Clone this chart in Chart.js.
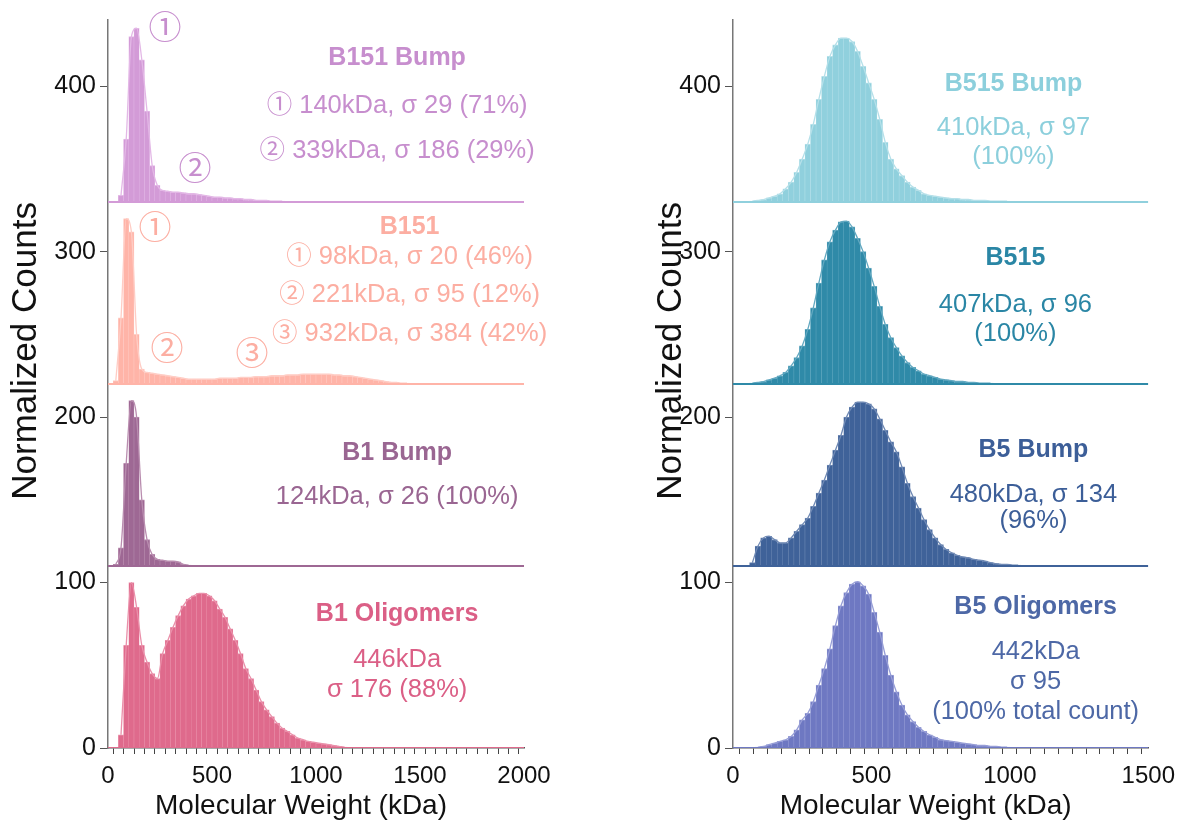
<!DOCTYPE html>
<html>
<head>
<meta charset="utf-8">
<script src="https://cdn.jsdelivr.net/npm/chart.js@4.4.0/dist/chart.umd.min.js"></script>
<style>
  body { margin: 0; background: #fff; width: 1183px; height: 826px; position: relative; overflow: hidden; }
  .box { position: absolute; top: 0; height: 826px; }
  #boxLeft { left: 0; width: 560px; }
  #boxRight { left: 645px; width: 538px; }
</style>
</head>
<body>
<div class="box" id="boxLeft"><canvas id="chartLeft"></canvas></div>
<div class="box" id="boxRight"><canvas id="chartRight"></canvas></div>
<script>
// ---------- DATA: left panel (25 kDa bins) ----------
const binLeft = 25;
const b151BumpStart = 50;
const b151Bump = [4, 38, 100, 105, 86, 55, 22, 10, 7, 6.5, 6, 6, 5.5, 5, 5, 4.5, 4, 3.5, 3, 3,
    2.5, 2.5, 2, 2, 1.5, 1.5, 1, 1, 1, 0.5, 0.5, 0.5];
const b151Start = 25;
const b151 = [2, 40, 100, 92, 30, 9, 7, 6.5, 6, 5.5, 5, 4.5, 4, 3.5, 3, 3, 3, 3, 3, 3,
    3.5, 3.5, 3.5, 3.5, 4, 4, 4, 4.5, 4.5, 4.5, 5, 5, 5, 5.5, 5.5, 5.5, 6, 6, 6, 6, 6, 6,
    5.5, 5.5, 5, 5, 4.5, 4, 3.5, 3, 2.5, 2, 1.5, 1, 1, 0.5, 0.5];
const b1BumpStart = 25;
const b1Bump = [1, 11, 62, 100, 90, 40, 16, 7, 4, 3.5, 3, 3, 2.5, 1, 0.5];
const b1OligStart = 50;
const b1Olig = [8, 62, 100, 85, 62, 52, 45, 42, 57, 65, 73, 80, 86, 90, 92, 93.5, 93.5, 92, 89, 84,
    79, 72, 65, 57, 48, 42, 35, 28, 23, 19, 15, 12, 10, 8, 6, 5, 4, 3.5, 3, 2.5, 2, 1.5, 1, 0.5];

// ---------- DATA: right panel (20 kDa bins) ----------
const binRight = 20;
const b515BumpStart = 60;
const b515Bump = [0.5, 1, 1.5, 2.5, 3.5, 5, 8, 12, 18, 26, 35, 47, 62, 76, 88, 95, 99, 99, 97, 91,
    82, 72, 62, 50, 36, 26, 20, 16, 12, 9, 7, 5, 4, 3.5, 3, 2.5, 2, 2, 1.5, 1.5, 1, 1, 1, 0.5, 0.5, 0.5, 0.5];
const b515Start = 60;
const b515 = [0.5, 1, 1.5, 2.5, 3.5, 5, 7, 11, 16, 23, 33, 46, 61, 75, 86, 93, 98, 98.5, 95, 88,
    80, 70, 59, 47, 36, 28, 22, 17, 13, 10, 8, 6, 5, 4, 3, 2.5, 2, 1.5, 1.5, 1, 1, 0.5, 0.5, 0.5];
const b5BumpStart = 60;
const b5Bump = [2, 12, 17, 18, 16, 14, 14, 17, 21, 25, 29, 36, 44, 52, 61, 70, 79, 90, 96, 99,
    99, 98, 95, 89, 82, 75, 69, 60, 50, 42, 35, 28, 22, 17, 13, 10, 8, 6.5, 5.5, 5, 4, 3.5, 3, 2, 1.5, 1, 1, 0.5, 0.5];
const b5OligStart = 80;
const b5Olig = [0.5, 1, 2, 3, 4, 5, 7, 11, 17, 21, 28, 38, 48, 60, 74, 86, 94, 99, 100.5, 98,
    93, 82, 70, 56, 44, 34, 26, 20, 16, 12.5, 10, 8, 6.5, 5, 4.5, 4, 3.5, 3, 2.5, 2, 1.5, 1.5, 1, 1, 0.5, 0.5];

// offsets of the stacked rows
const rowBase = [330, 220, 110, 0];

// axis ticks
const yTicks = [0, 100, 200, 300, 400];
const xLabelsLeft = [0, 500, 1000, 1500, 2000];
const xLabelsRight = [0, 500, 1000, 1500];

const FONT = "'Liberation Sans', 'Noto Sans CJK JP', Arial, sans-serif";

// colours: [fill, light edge / fit line, text]
const C = {
    b151Bump: ['#d39bd7', '#e3b8e6', '#c78ece'],
    b151:     ['#ffb4a8', '#ffcdc5', '#fcaea2'],
    b1Bump:   ['#9e6894', '#b98daf', '#9a6692'],
    b1Olig:   ['#df6a8c', '#ea90aa', '#db5f86'],
    b515Bump: ['#90d0dd', '#b5e0e9', '#8ccfdc'],
    b515:     ['#2f8aa8', '#62a8c0', '#2a86a5'],
    b5Bump:   ['#3f6299', '#6f89b4', '#3c5e98'],
    b5Olig:   ['#6e78c2', '#969dd6', '#4d68a6']
};

function histo(heights, start, bin, base, col, xmax) {
    const xs = heights.map((h, i) => start + (i + 0.5) * bin);
    return [
        {
            type: 'bar',
            data: heights.map((h, i) => ({ x: xs[i], y: [base, base + h] })),
            backgroundColor: col[0],
            borderColor: col[1],
            borderWidth: { left: 0.5, right: 0.5, top: 1, bottom: 0 },
            borderSkipped: false,
            grouped: false,
            barPercentage: 1,
            categoryPercentage: 1,
            order: 3
        },
        {
            type: 'line',
            data: heights.map((h, i) => ({ x: xs[i], y: base + h })),
            borderColor: col[1],
            borderWidth: 1.3,
            pointRadius: 0,
            cubicInterpolationMode: 'monotone',
            fill: false,
            order: 2
        },
        {
            type: 'line',
            data: [{ x: 0, y: base }, { x: xmax, y: base }],
            borderColor: col[0],
            borderWidth: 1.8,
            pointRadius: 0,
            order: 1
        }
    ];
}

// text labels: [text, x (kDa), y (counts), bold, size, colour]
const notesLeft = [
    ['B151 Bump', 1390, 417, true, 25, C.b151Bump[2]],
    ['\u2460 140kDa, \u03c3 29 (71%)', 1390, 388, false, 25.5, C.b151Bump[2]],
    ['\u2461 339kDa, \u03c3 186 (29%)', 1390, 361, false, 25.5, C.b151Bump[2]],
    ['\u2460', 274, 434, false, 33, C.b151Bump[2]],
    ['\u2461', 418, 349, false, 33, C.b151Bump[2]],
    ['B151', 1450, 315, true, 25, C.b151[2]],
    ['\u2460 98kDa, \u03c3 20 (46%)', 1450, 297, false, 25.5, C.b151[2]],
    ['\u2461 221kDa, \u03c3 95 (12%)', 1450, 274, false, 25.5, C.b151[2]],
    ['\u2462 932kDa, \u03c3 384 (42%)', 1450, 250, false, 25.5, C.b151[2]],
    ['\u2460', 226, 313, false, 33, C.b151[2]],
    ['\u2461', 284, 240, false, 33, C.b151[2]],
    ['\u2462', 692, 237, false, 33, C.b151[2]],
    ['B1 Bump', 1390, 178, true, 25, C.b1Bump[2]],
    ['124kDa, \u03c3 26 (100%)', 1390, 152, false, 25.5, C.b1Bump[2]],
    ['B1 Oligomers', 1390, 81, true, 25, C.b1Olig[2]],
    ['446kDa', 1390, 53, false, 25.5, C.b1Olig[2]],
    ['\u03c3 176 (88%)', 1390, 35, false, 25.5, C.b1Olig[2]]
];
const notesRight = [
    ['B515 Bump', 1013, 401, true, 25, C.b515Bump[2]],
    ['410kDa, \u03c3 97', 1013, 375, false, 25.5, C.b515Bump[2]],
    ['(100%)', 1013, 357, false, 25.5, C.b515Bump[2]],
    ['B515', 1020, 296, true, 25, C.b515[2]],
    ['407kDa, \u03c3 96', 1020, 268, false, 25.5, C.b515[2]],
    ['(100%)', 1020, 250, false, 25.5, C.b515[2]],
    ['B5 Bump', 1085, 180, true, 25, C.b5Bump[2]],
    ['480kDa, \u03c3 134', 1085, 153, false, 25.5, C.b5Bump[2]],
    ['(96%)', 1085, 137, false, 25.5, C.b5Bump[2]],
    ['B5 Oligomers', 1093, 85, true, 25, C.b5Olig[2]],
    ['442kDa', 1093, 58, false, 25.5, C.b5Olig[2]],
    ['\u03c3 95', 1093, 40, false, 25.5, C.b5Olig[2]],
    ['(100% total count)', 1093, 22, false, 25.5, C.b5Olig[2]]
];

// text notes + both axis titles (drawn here so they can sit off-centre like the original)
const notesPlugin = {
    id: 'notes',
    afterDatasetsDraw(chart, args, opts) {
        const { ctx, scales: { x, y } } = chart;
        ctx.save();
        ctx.textAlign = 'center';
        ctx.textBaseline = 'middle';
        opts.items.forEach(n => {
            ctx.font = (n[3] ? 'bold ' : '') + n[4] + 'px ' + FONT;
            ctx.fillStyle = n[5];
            ctx.fillText(n[0], x.getPixelForValue(n[1]), y.getPixelForValue(n[2]));
        });
        ctx.fillStyle = '#111';
        ctx.font = '28px ' + FONT;
        ctx.fillText('Molecular Weight (kDa)', (x.left + x.right) / 2 - 15, 806);
        ctx.translate(26, y.getPixelForValue(240));
        ctx.rotate(-Math.PI / 2);
        ctx.font = '35px ' + FONT;
        ctx.fillText('Normalized Counts', 0, 0);
        ctx.restore();
    }
};

function makeChart(id, datasets, xmax, xLabels, yWidth, padRight, notes) {
    return new Chart(document.getElementById(id), {
        type: 'bar',
        data: { datasets },
        plugins: [notesPlugin],
        options: {
            responsive: true,
            maintainAspectRatio: false,
            animation: false,
            devicePixelRatio: 1,
            layout: { padding: { top: 20, right: padRight, bottom: 0, left: 0 } },
            plugins: {
                legend: { display: false },
                tooltip: { enabled: false },
                notes: { items: notes }
            },
            scales: {
                x: {
                    type: 'linear',
                    offset: false,
                    min: 0,
                    max: xmax,
                    afterBuildTicks: s => {
                        const t = [];
                        for (let v = 0; v <= xmax; v += 50) t.push({ value: v });
                        s.ticks = t;
                    },
                    afterFit: s => { s.height = 78; },
                    ticks: {
                        autoSkip: false,
                        maxRotation: 0,
                        padding: 8,
                        color: '#111',
                        font: { family: FONT, size: 24 },
                        callback: v => xLabels.includes(v) ? String(v) : ''
                    },
                    grid: { drawOnChartArea: false, drawTicks: true, tickLength: 6, color: '#444' },
                    border: { color: '#555', width: 1.5 },
                    title: { display: false }
                },
                y: {
                    min: 0,
                    max: 440,
                    afterBuildTicks: s => { s.ticks = yTicks.map(v => ({ value: v })); },
                    afterFit: s => { s.width = yWidth; },
                    ticks: {
                        padding: 4,
                        color: '#111',
                        font: { family: FONT, size: 25 }
                    },
                    grid: { drawOnChartArea: false, drawTicks: true, tickLength: 8, color: '#555' },
                    border: { color: '#777', width: 1.5 },
                    title: { display: false }
                }
            }
        }
    });
}

makeChart('chartLeft', [
    ...histo(b151Bump, b151BumpStart, binLeft, rowBase[0], C.b151Bump, 2000),
    ...histo(b151, b151Start, binLeft, rowBase[1], C.b151, 2000),
    ...histo(b1Bump, b1BumpStart, binLeft, rowBase[2], C.b1Bump, 2000),
    ...histo(b1Olig, b1OligStart, binLeft, rowBase[3], C.b1Olig, 2000)
], 2000, xLabelsLeft, 108, 36, notesLeft);

makeChart('chartRight', [
    ...histo(b515Bump, b515BumpStart, binRight, rowBase[0], C.b515Bump, 1500),
    ...histo(b515, b515Start, binRight, rowBase[1], C.b515, 1500),
    ...histo(b5Bump, b5BumpStart, binRight, rowBase[2], C.b5Bump, 1500),
    ...histo(b5Olig, b5OligStart, binRight, rowBase[3], C.b5Olig, 1500)
], 1500, xLabelsRight, 88, 34, notesRight);
</script>
</body>
</html>
